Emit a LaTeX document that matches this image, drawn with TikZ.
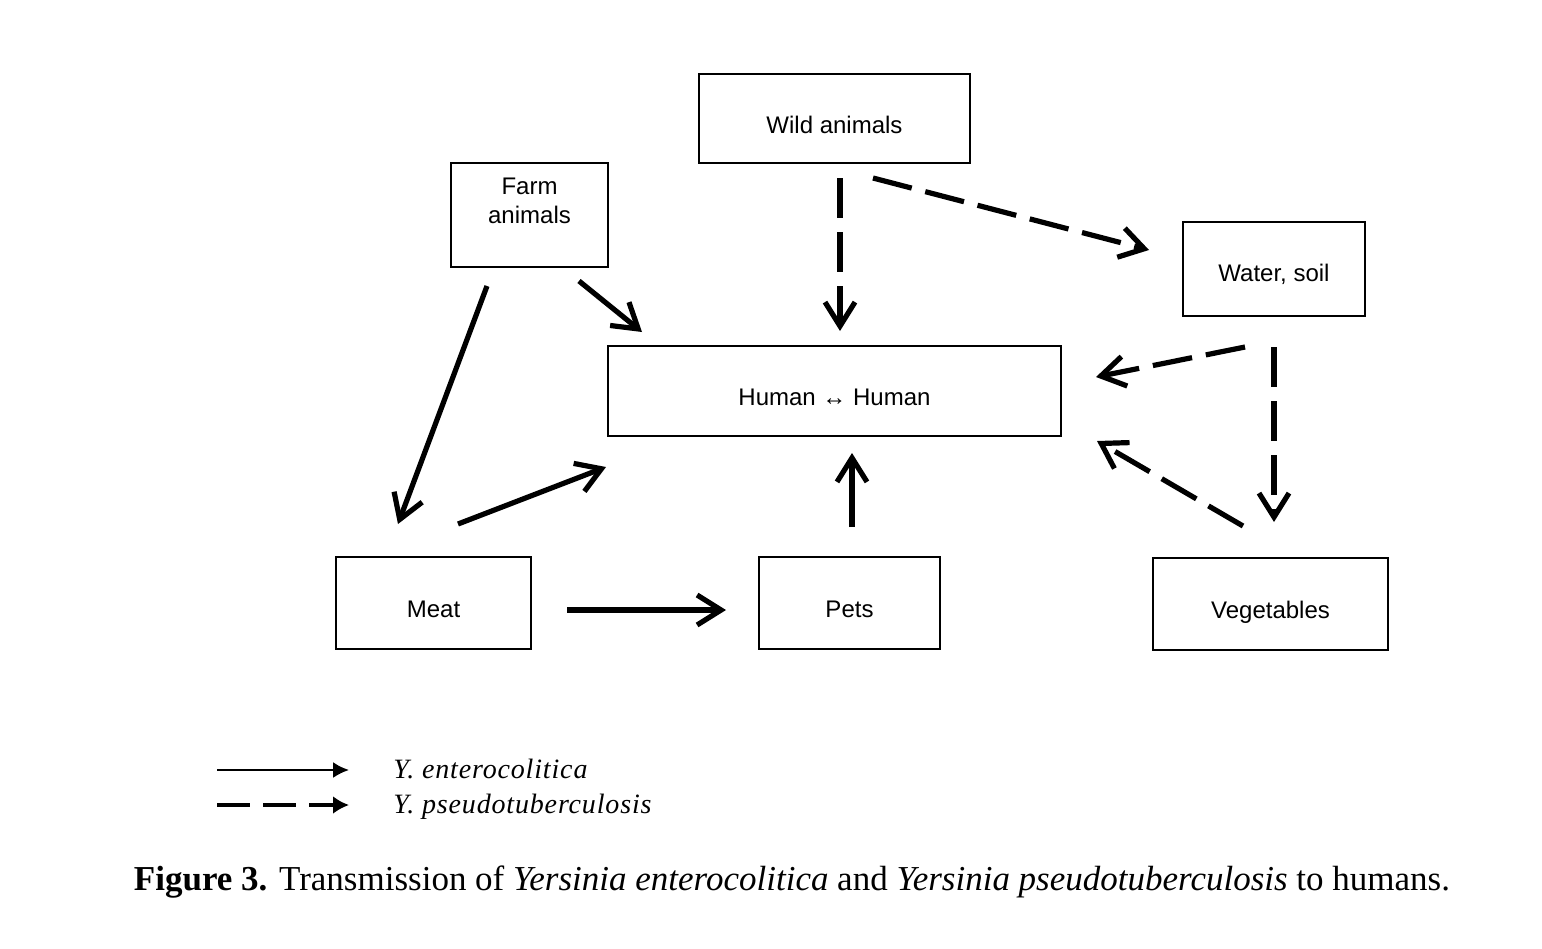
\documentclass[tikz,border=0pt]{standalone}
\usepackage{fontspec}
\setmainfont{Liberation Serif}
\newfontfamily\boxfont{Liberation Sans}
\usetikzlibrary{arrows.meta,calc}
\begin{document}
\begin{tikzpicture}[x=0.5pt,y=-0.5pt,
  box/.style={draw,line width=1pt,inner sep=0pt,font=\boxfont\fontsize{12}{14.5}\selectfont,
    text height=14.6pt,text depth=0pt,align=center},
  sarr/.style={line width=2.6pt,-{Straight Barb[length=12pt,width=15pt,line width=2.6pt]}},
  darr/.style={sarr,dash pattern=on 20pt off 7pt},
  legtxt/.style={font=\fontsize{14}{16}\selectfont\itshape\addfontfeatures{LetterSpace=3},anchor=base west,inner sep=0pt}]
\useasboundingbox (0,0) rectangle (1542,948);
% boxes
\node[box,minimum width=135.5pt,minimum height=44.5pt] (wild) at (834.5,118.5) {Wild animals};
\node[box,minimum width=78.5pt,minimum height=52pt,text height=8.6pt,text depth=0pt] (farm) at (529.5,215) {Farm\\animals};
\node[box,minimum width=91pt,minimum height=47pt,text height=12pt] (water) at (1274,269) {Water, soil};
\node[box,minimum width=226.5pt,minimum height=45pt] (human) at (834.5,391) {Human ↔ Human};
\node[box,minimum width=97.5pt,minimum height=46pt] (meat) at (433.5,603) {Meat};
\node[box,minimum width=90.5pt,minimum height=46pt] (pets) at (849.5,603) {Pets};
\node[box,minimum width=117.5pt,minimum height=46pt] (veg) at (1270.5,604) {Vegetables};
% solid arrows (Y. enterocolitica)
\draw[sarr] ($(farm.south)+(-42.5,18)$) -- ($(meat.north)+(-35.5,-32)$);
\draw[sarr] ($(farm.south east)+(-30,13)$) -- ($(human.north west)+(35,-13)$);
\draw[sarr] ($(meat.north)+(24.5,-32)$) -- ($(human.south west)+(-1,30)$);
\draw[sarr] ($(meat.east)+(35,7)$) -- ($(pets.west)+(-32,7)$);
\draw[sarr] ($(pets.north)+(2.5,-29)$) -- ($(human.south)+(17.5,16)$);
% dashed arrows (Y. pseudotuberculosis)
\draw[darr] ($(wild.south)+(5.5,14)$) -- ($(human.north)+(5.5,-14)$);
\draw[darr] ($(wild.south)+(38.5,14)$) -- ($(water.west)+(-33,-19)$);
\draw[darr] ($(water.south)+(-29,30)$) -- ($(human.east)+(34,-14)$);
\draw[darr] ($(water.south)+(0,30)$) -- ($(veg.north)+(3.5,-35)$);
\draw[darr] ($(veg.north)+(-27.5,-31)$) -- ($(human.south east)+(35,4)$);
% legend
\coordinate (l1s) at (217,770);
\coordinate (l1e) at (349,770);
\coordinate (l2s) at (217,805);
\coordinate (l2e) at (349,805);
\draw[line width=1.1pt,-{Latex[length=8pt,width=8pt]}] (l1s) -- (l1e);
\draw[line width=2.2pt,dash pattern=on 16.5pt off 6.5pt,-{Latex[length=8pt,width=9pt]}] (l2s) -- (l2e);
\node[legtxt] (lt1) at (393,778) {Y. enterocolitica};
\node[legtxt] (lt2) at (393,813) {Y. pseudotuberculosis};
% caption
\node[anchor=base,inner sep=0pt,font=\fontsize{17.5}{20}\selectfont] (cap) at (792,890)
  {\textbf{Figure 3.} Transmission of \textit{Yersinia enterocolitica} and \textit{Yersinia pseudotuberculosis} to humans.};
\end{tikzpicture}
\end{document}
